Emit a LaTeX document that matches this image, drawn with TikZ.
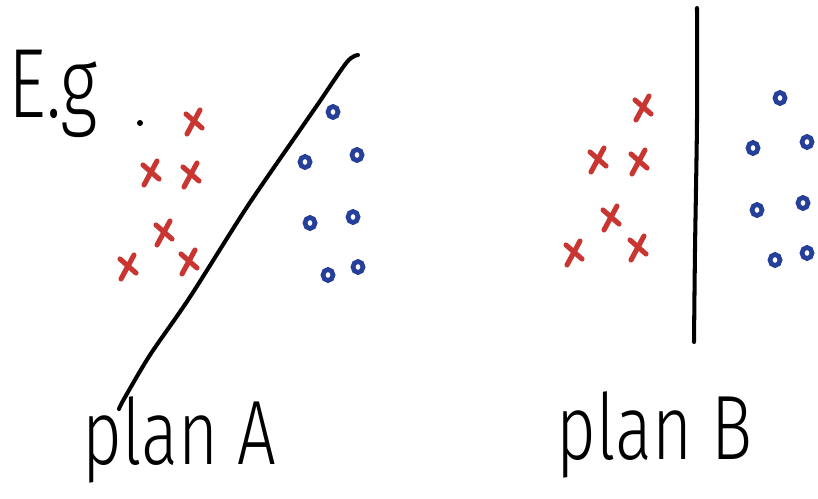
\documentclass[tikz,border=0pt]{standalone}
\usepackage{fontspec}
\newfontfamily\handfont[FakeStretch=0.75]{Fira Sans Light}
\usetikzlibrary{positioning}
\definecolor{inkred}{HTML}{C93631}
\definecolor{inkblue}{HTML}{26409A}
\tikzstyle{pen} = [line width=2.3pt, line cap=round, line join=round, black]
\tikzstyle{redpen} = [line width=2.9pt, line cap=round, inkred]
\tikzstyle{bluepen} = [line width=2.7pt, inkblue]
\tikzstyle{hand} = [inner sep=0pt, anchor=base west, font=\handfont\fontsize{52}{52}\selectfont]
\tikzset{
  redcross/.pic={
    \draw[redpen] (-7,-8) -- (9,6);
    \draw[redpen] (7,-12) -- (-6,12);
  },
  bluering/.pic={
    \draw[bluepen] (0,0) ellipse [x radius=5, y radius=5.5];
  }
}

\begin{document}
\begin{tikzpicture}[x=0.02cm, y=-0.02cm]
\useasboundingbox (0,0) rectangle (818,499);

% labels
\node (eg) [hand, font=\handfont\fontsize{56}{56}\selectfont] at (8,118) {E.g};
\node (planA) [hand] at (82,465) {plan A};
\node (planB) [hand] at (556,460) {plan B};
\fill (140,123) circle [radius=3];

% plan A
\draw[pen] plot[smooth] coordinates {(119,409) (124,399) (150,355) (190,297) (247,207) (300,130) (318,104) (347,62) (358,55)};
\foreach \x/\y in {193/122, 150/173, 190/175, 163/233, 127/267, 188/262}
  \pic at (\x,\y) {redcross};
\foreach \x/\y in {333/112, 305/162, 357/155, 310/223, 353/217, 328/275, 358/267}
  \pic at (\x,\y) {bluering};

% plan B
\draw[pen] plot[smooth] coordinates {(697,8) (697,120) (695,250) (694,342)};
\foreach \x/\y in {642/108, 597/160, 638/162, 610/218, 573/253, 637/248}
  \pic at (\x,\y) {redcross};
\foreach \x/\y in {780/98, 753/148, 807/142, 757/210, 803/203, 775/260, 807/253}
  \pic at (\x,\y) {bluering};

\end{tikzpicture}
\end{document}
